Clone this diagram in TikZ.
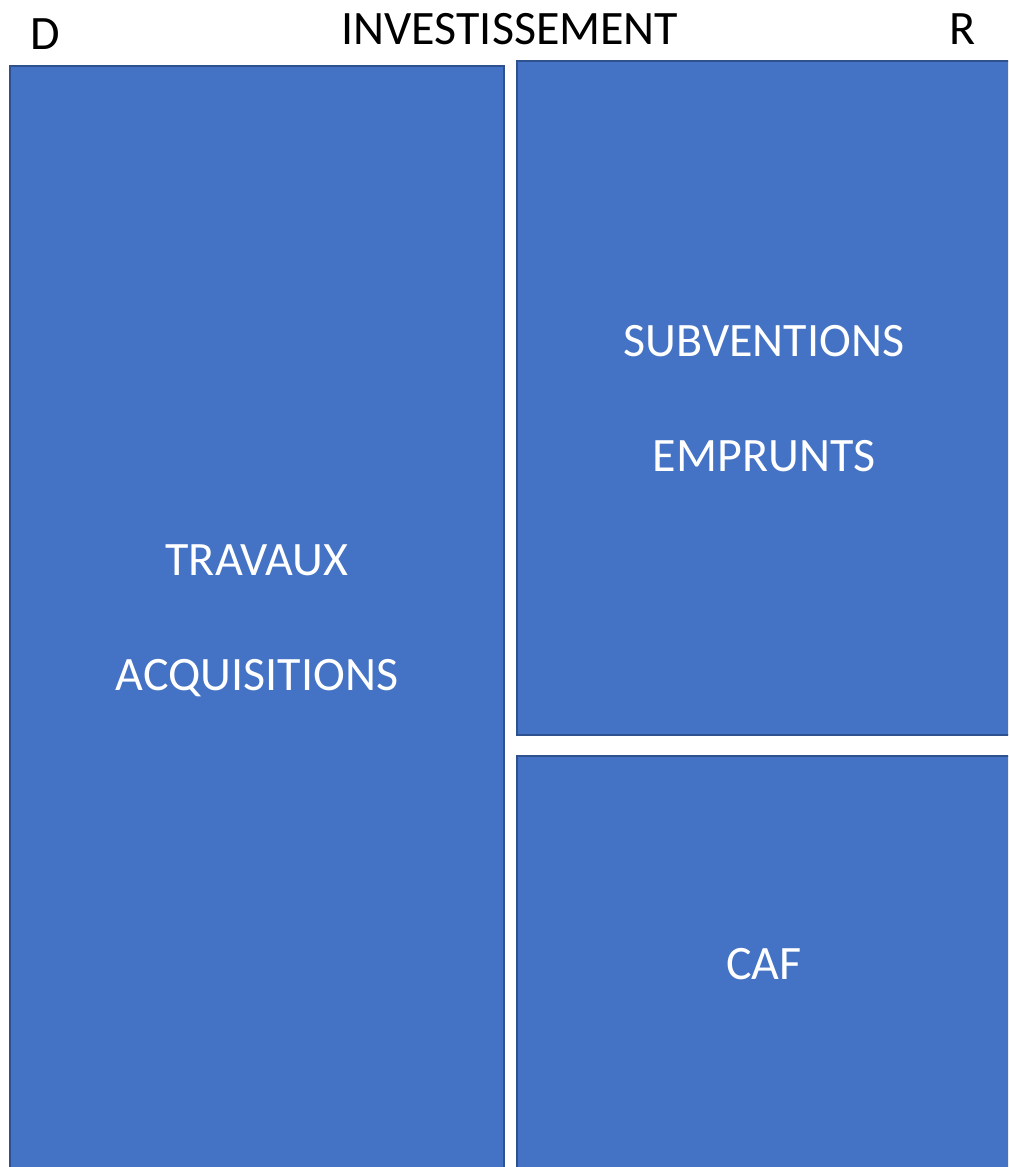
\documentclass[tikz,border=0pt]{standalone}
\usepackage{fontspec}
\setmainfont{Carlito}
\definecolor{boxfill}{HTML}{4472C4}
\definecolor{boxline}{HTML}{2F528F}
\begin{document}
\begin{tikzpicture}[x=0.75pt,y=-0.75pt,
  blockbox/.style={fill=boxfill,draw=boxline,line width=1.5pt},
  intext/.style={text=white,font=\fontsize{36}{40}\selectfont,anchor=base,inner sep=0pt},
  toptext/.style={text=black,font=\fontsize{36}{40}\selectfont,anchor=base,inner sep=0pt}]
\useasboundingbox (0,0) rectangle (1008,1167);
\begin{scope}
\clip (0,0) rectangle (1008,1167);
\draw[blockbox] (10,66) rectangle (504,1190);
\draw[blockbox] (517,61) rectangle (1030,735);
\draw[blockbox] (517,756) rectangle (1030,1190);
\end{scope}
\node[toptext] (d) at (45,49) {D};
\node[toptext] (title) at (510,44) {INVESTISSEMENT};
\node[toptext] (r) at (963,44) {R};
\node[intext] (trav) at (257,575) {TRAVAUX};
\node[intext] (acq) at (257,690) {ACQUISITIONS};
\node[intext] (sub) at (764,356) {SUBVENTIONS};
\node[intext] (emp) at (764,471) {EMPRUNTS};
\node[intext] (caf) at (764,979) {CAF};
\end{tikzpicture}
\end{document}
